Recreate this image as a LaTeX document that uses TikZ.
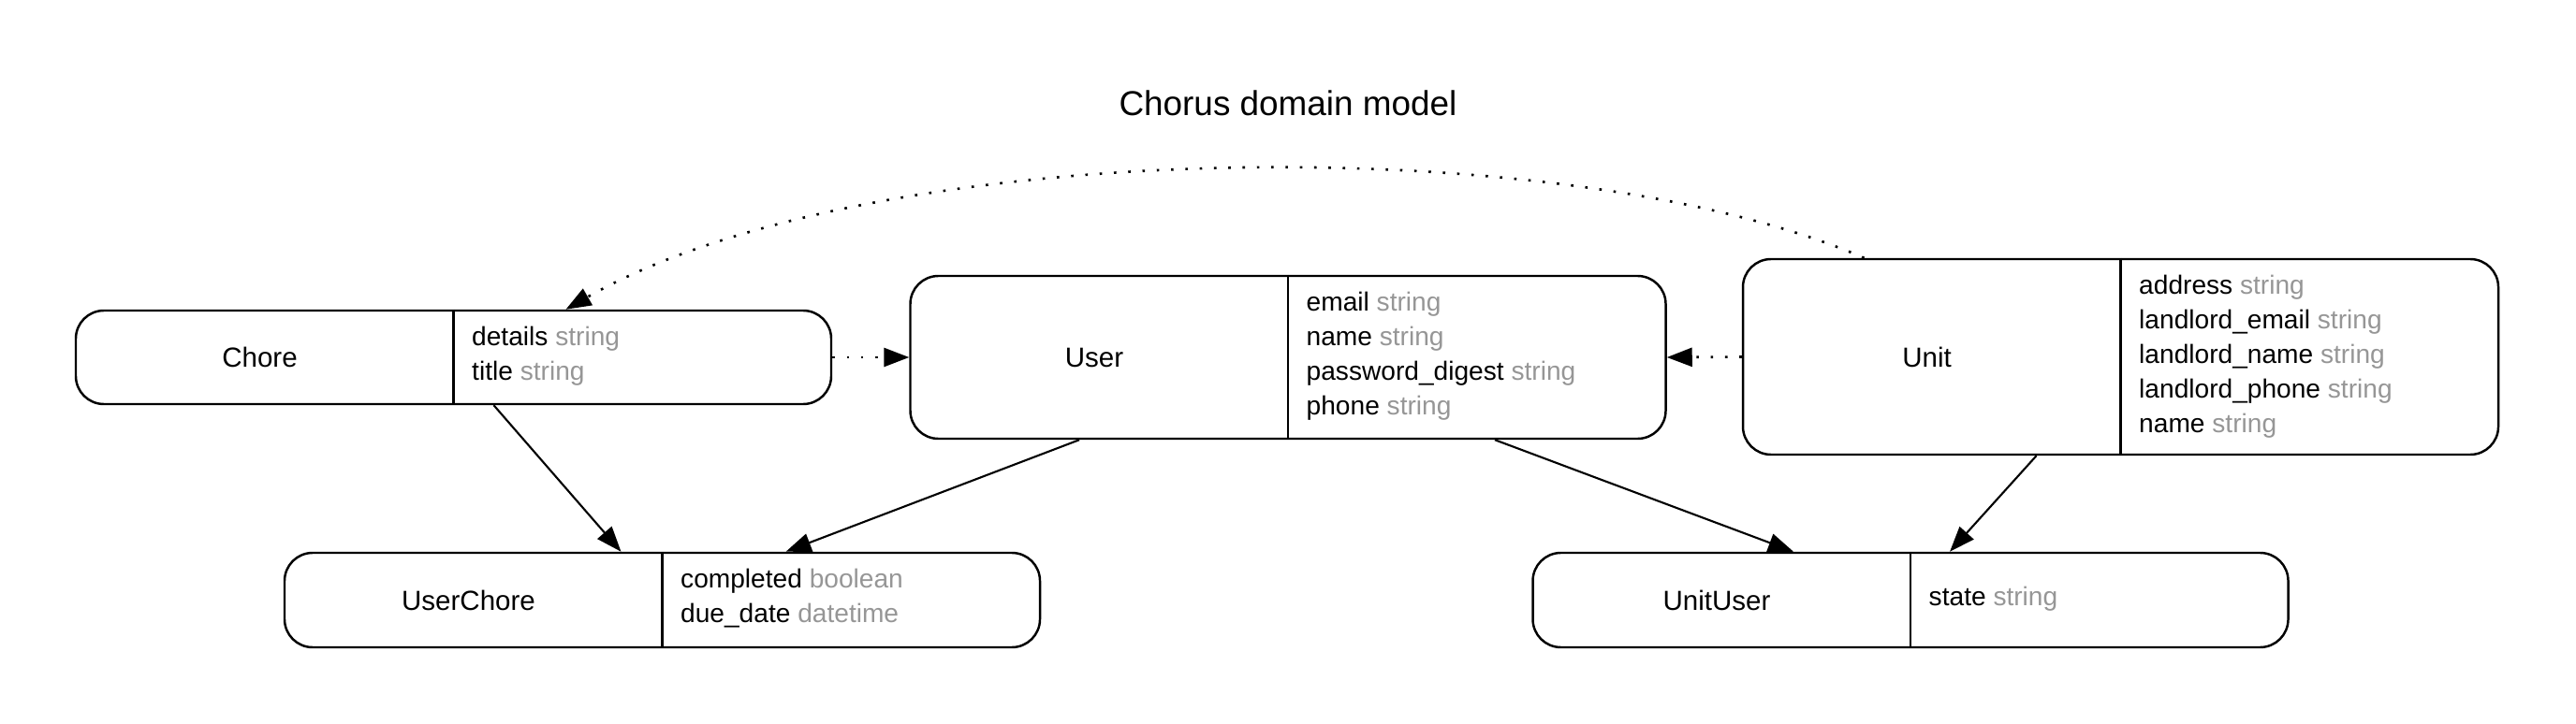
\documentclass[tikz,border=0pt]{standalone}
\usepackage{fontspec}
\setmainfont{Liberation Sans}
\usetikzlibrary{arrows.meta}

\definecolor{typegray}{RGB}{150,150,150}
\newcommand{\attr}[2]{#1 {\color{typegray}#2}}

\tikzset{
  entbox/.style={draw, line width=0.7pt, rounded corners=0.3cm, minimum width=8.07cm, inner sep=0pt},
  entname/.style={font=\fontsize{8.4}{10}\selectfont},
  entattrs/.style={anchor=west, align=left, inner sep=0pt, font=\fontsize{8}{10.5}\selectfont},
  hasmany/.style={line width=0.6pt, -{Triangle[length=0.27cm,width=0.2cm]}},
  belongs/.style={line width=0.75pt, dash pattern=on 0.75pt off 3.6pt, -{Triangle[length=0.27cm,width=0.2cm]}}
}

\begin{document}
\begin{tikzpicture}
\useasboundingbox (0,0) rectangle (27.52,-7.74);

\node[font=\fontsize{10.5}{12}\selectfont] (title) at (13.76,-1.10) {Chorus domain model};

% entities
\node[entbox, minimum height=1.00cm] (chore) at (4.845,-3.82) {};
\draw[line width=0.6pt] (chore.north) -- (chore.south);
\node[entname] (chorename) at ([xshift=-2.07cm]chore.center) {Chore};
\node[entattrs] (choreattrs) at ([xshift=0.19cm,yshift=0.015cm]chore.center)
  {\attr{details}{string}\\ \attr{title}{string}};

\node[entbox, minimum height=1.74cm] (user) at (13.76,-3.82) {};
\draw[line width=0.6pt] (user.north) -- (user.south);
\node[entname] (username) at ([xshift=-2.07cm]user.center) {User};
\node[entattrs] (userattrs) at ([xshift=0.19cm,yshift=0.01cm]user.center)
  {\attr{email}{string}\\ \attr{name}{string}\\ \attr{password\_digest}{string}\\ \attr{phone}{string}};

\node[entbox, minimum height=2.09cm] (unit) at (22.655,-3.815) {};
\draw[line width=0.6pt] (unit.north) -- (unit.south);
\node[entname] (unitname) at ([xshift=-2.07cm]unit.center) {Unit};
\node[entattrs] (unitattrs) at ([xshift=0.19cm,yshift=0.0cm]unit.center)
  {\attr{address}{string}\\ \attr{landlord\_email}{string}\\ \attr{landlord\_name}{string}\\
   \attr{landlord\_phone}{string}\\ \attr{name}{string}};

\node[entbox, minimum height=1.01cm] (userchore) at (7.075,-6.415) {};
\draw[line width=0.6pt] (userchore.north) -- (userchore.south);
\node[entname] (userchorename) at ([xshift=-2.07cm]userchore.center) {UserChore};
\node[entattrs] (userchoreattrs) at ([xshift=0.19cm,yshift=0.015cm]userchore.center)
  {\attr{completed}{boolean}\\ \attr{due\_date}{datetime}};

\node[entbox, minimum height=1.01cm] (unituser) at (20.41,-6.415) {};
\draw[line width=0.6pt] (unituser.north) -- (unituser.south);
\node[entname] (unitusername) at ([xshift=-2.07cm]unituser.center) {UnitUser};
\node[entattrs] (unituserattrs) at ([xshift=0.19cm,yshift=0.015cm]unituser.center)
  {\attr{state}{string}};

% associations
\draw[hasmany] ([xshift=0.43cm]chore.south) -- ([xshift=-0.44cm]userchore.north);
\draw[hasmany] ([xshift=-2.23cm]user.south) -- ([xshift=1.32cm]userchore.north);
\draw[hasmany] ([xshift=2.21cm]user.south) -- ([xshift=-1.25cm]unituser.north);
\draw[hasmany] ([xshift=-0.90cm]unit.south) -- ([xshift=0.42cm]unituser.north);
\draw[belongs] (chore.east) -- (user.west);
\draw[belongs] (unit.west) -- (user.east);
\draw[belongs] ([xshift=-2.74cm]unit.north) .. controls (16.7,-1.36) and (9.3,-1.45) .. ([xshift=1.20cm]chore.north);
\end{tikzpicture}
\end{document}
